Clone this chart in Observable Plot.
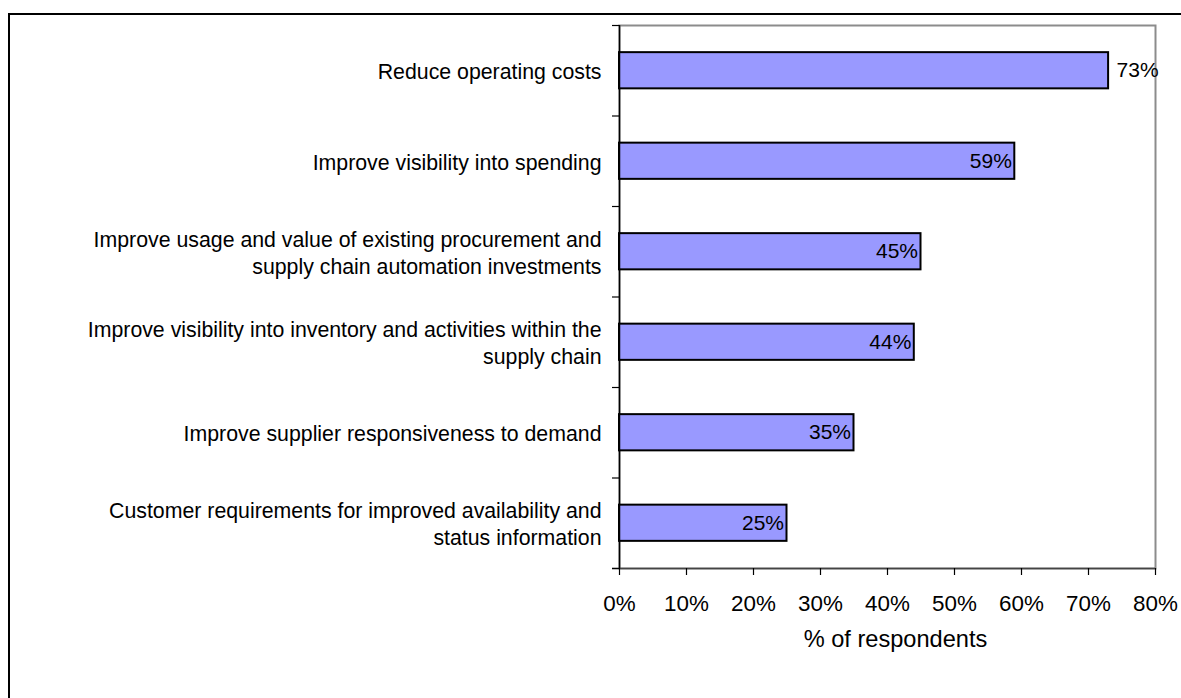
<!DOCTYPE html>
<html>
<head>
<meta charset="utf-8">
<script src="https://cdn.jsdelivr.net/npm/d3@7"></script>
<script src="https://cdn.jsdelivr.net/npm/@observablehq/plot@0.6"></script>
<style>
  html, body { margin: 0; padding: 0; background: #fff; overflow: hidden; }
  #wrap { position: relative; width: 1181px; height: 698px; }
  #border { position: absolute; left: 8px; top: 13px; width: 1200px; height: 720px;
            border: 2.5px solid #000; pointer-events: none; box-sizing: border-box; }
  #chart { position: absolute; left: 0; top: 0; }
</style>
</head>
<body>
<div id="wrap">
  <div id="chart"></div>
  <div id="border"></div>
</div>
<script>
const categories = [
  "Reduce operating costs",
  "Improve visibility into spending",
  "Improve usage and value of existing procurement and\nsupply chain automation investments",
  "Improve visibility into inventory and activities within the\nsupply chain",
  "Improve supplier responsiveness to demand",
  "Customer requirements for improved availability and\nstatus information"
];
const values = [73, 59, 45, 44, 35, 25];
const xTicks = [0, 10, 20, 30, 40, 50, 60, 70, 80];
const xLabel = "% of respondents";

const maxVal = d3.max(values);
const data = categories.map((c, i) => ({category: c, value: values[i], pos: i}));
const inside = data.filter(d => d.value < maxVal);
const outside = data.filter(d => d.value === maxVal);
const font = "'Liberation Sans', Arial, Helvetica, sans-serif";

const chart = Plot.plot({
  width: 1181,
  height: 698,
  marginLeft: 619,
  marginRight: 26,
  marginTop: 25,
  marginBottom: 130,
  style: {fontFamily: font, fontSize: "21px", color: "#000", background: "transparent", overflow: "visible"},
  x: {domain: [0, 80], axis: null},
  y: {domain: [0, categories.length], reverse: true, axis: null},
  marks: [
    Plot.frame({stroke: "#8c8c8c", strokeWidth: 2}),
    Plot.rectX(data, {x1: 0, x2: "value", y1: d => d.pos + 0.3, y2: d => d.pos + 0.7,
      fill: "#9999FF", stroke: "#000", strokeWidth: 2}),
    Plot.ruleY([categories.length], {stroke: "#444", strokeWidth: 1.5, insetLeft: -7}),
    Plot.ruleX([0], {stroke: "#000", strokeWidth: 1.5}),
    Plot.axisY(d3.range(categories.length + 1), {tickSize: 7, tickFormat: () => "", stroke: "#000", strokeWidth: 1.2}),
    Plot.axisX(xTicks, {anchor: "bottom", tickSize: 7, tickPadding: 20, tickFormat: d => d + "%",
      fontSize: 22.4, stroke: "#000", strokeWidth: 1.2, label: null}),
    Plot.text(data, {x: 0, y: d => d.pos + 0.5, text: "category", textAnchor: "end", dx: -18,
      lineHeight: 1.25, fontSize: 21.3, fill: "#000"}),
    Plot.text(inside, {x: "value", y: d => d.pos + 0.5, text: d => d.value + "%", textAnchor: "end", dx: -3,
      fontSize: 21, fill: "#000"}),
    Plot.text(outside, {x: "value", y: d => d.pos + 0.5, text: d => d.value + "%", textAnchor: "start", dx: 8,
      fontSize: 21, fill: "#000"}),
    Plot.text([xLabel], {frameAnchor: "bottom", text: d => d, dy: 78, dx: 8, fontSize: 23.6, fill: "#000"})
  ]
});
document.getElementById("chart").appendChild(chart);
</script>
</body>
</html>
